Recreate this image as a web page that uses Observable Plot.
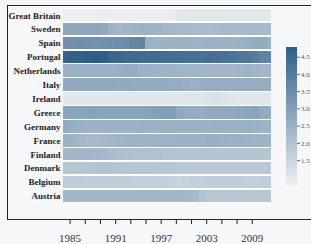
<!DOCTYPE html>
<html><head><meta charset="utf-8">
<script src="https://cdn.jsdelivr.net/npm/d3@7"></script>
<script src="https://cdn.jsdelivr.net/npm/@observablehq/plot@0.6"></script>
<style>
html,body{margin:0;padding:0;background:#f6f7f9;}
#wrap{position:relative;width:311px;height:244px;overflow:hidden;background:#f6f7f9;}
#box{position:absolute;left:6.5px;top:4.5px;width:340px;height:213.5px;border-top:1.3px solid #222;border-left:1.3px solid #222;border-bottom:1.3px solid #222;}
#wrap svg{position:absolute;left:0;top:0;}
</style></head><body><div id="wrap"><div id="box"></div></div>
<script>
const countries = ["Great Britain","Sweden","Spain","Portugal","Netherlands","Italy","Ireland","Greece","Germany","France","Finland","Denmark","Belgium","Austria"];
const years = [1984,1985,1986,1987,1988,1989,1990,1991,1992,1993,1994,1995,1996,1997,1998,1999,2000,2001,2002,2003,2004,2005,2006,2007,2008,2009,2010,2011];
const tickYears = [1985,1987,1989,1991,1993,1995,1997,1999,2001,2003,2005,2007,2009];
const labelYears = [1985,1991,1997,2003,2009];
const colorbarTicks = [1.5,2.0,2.5,3.0,3.5,4.0,4.5];

const greatBritain = [0.80,0.80,0.79,0.80,0.80,0.81,0.80,0.80,0.79,0.80,0.80,0.81,0.80,0.80,0.82,0.98,1.00,1.00,1.01,1.00,1.00,1.01,1.00,1.00,1.01,1.00,1.00,1.01];
const sweden = [2.80,2.80,2.78,2.80,2.78,2.72,2.45,2.35,2.40,2.42,2.45,2.42,2.40,2.35,2.30,2.28,2.25,2.22,2.20,2.20,2.22,2.25,2.25,2.25,2.25,2.25,2.25,2.25];
const spain = [3.40,3.40,3.42,3.40,3.38,3.40,3.42,3.45,3.50,3.65,3.75,2.50,2.40,2.45,2.45,2.48,2.45,2.45,2.42,2.45,2.45,2.45,2.45,2.50,2.55,2.65,2.65,2.50];
const portugal = [4.65,4.70,4.72,4.75,4.78,4.75,4.55,4.50,4.45,4.45,4.42,4.40,4.40,4.35,4.35,4.32,4.30,4.30,4.28,4.30,4.28,4.25,4.20,4.10,4.05,3.95,3.80,3.70];
const netherlands = [2.50,2.50,2.50,2.48,2.48,2.50,2.50,2.52,2.60,2.62,2.50,2.45,2.42,2.40,2.40,2.38,2.38,2.36,2.35,2.35,2.35,2.35,2.35,2.38,2.40,2.38,2.35,2.35];
const italy = [2.72,2.72,2.70,2.70,2.72,2.70,2.70,2.68,2.68,2.66,2.65,2.65,2.66,2.65,2.62,2.62,2.55,2.52,2.60,2.62,2.62,2.60,2.62,2.62,2.62,2.60,2.60,2.60];
const ireland = [1.00,1.00,1.00,1.00,1.00,1.00,1.00,1.00,1.00,1.00,1.00,1.00,1.00,1.00,1.00,1.00,1.02,1.02,1.05,1.15,1.20,1.10,1.02,1.00,1.00,1.00,1.00,1.00];
const greece = [2.85,2.85,2.85,2.88,2.88,2.86,2.85,2.85,2.85,2.85,2.86,2.90,2.98,3.00,3.00,2.75,2.60,2.60,2.62,2.70,2.72,2.72,2.72,2.75,2.80,2.85,2.65,2.60];
const germany = [2.65,2.55,2.48,2.45,2.45,2.45,2.45,2.45,2.45,2.45,2.48,2.45,2.45,2.45,2.45,2.45,2.45,2.45,2.45,2.45,2.48,2.48,2.48,2.48,2.48,2.45,2.42,2.40];
const france = [2.45,2.40,2.30,2.25,2.25,2.28,2.35,2.38,2.40,2.40,2.40,2.40,2.40,2.42,2.42,2.45,2.45,2.45,2.50,2.55,2.52,2.48,2.45,2.45,2.42,2.40,2.40,2.40];
const finland = [2.35,2.35,2.35,2.35,2.32,2.30,2.20,2.10,2.08,2.05,2.05,2.08,2.05,2.00,1.98,1.95,1.95,1.95,1.95,1.95,1.95,1.95,1.95,1.95,1.95,1.95,1.95,1.95];
const denmark = [1.95,1.95,1.95,1.95,1.98,2.02,2.00,1.95,1.92,1.90,1.90,1.90,1.88,1.88,1.88,1.86,1.85,1.85,1.85,1.85,1.85,1.85,1.85,1.85,1.85,1.85,1.85,1.85];
const belgium = [1.72,1.72,1.72,1.70,1.70,1.70,1.70,1.70,1.70,1.68,1.68,1.68,1.68,1.65,1.62,1.55,1.60,1.65,1.68,1.70,1.70,1.70,1.70,1.70,1.68,1.68,1.70,1.70];
const austria = [2.35,2.35,2.35,2.35,2.36,2.35,2.35,2.35,2.36,2.35,2.35,2.35,2.35,2.34,2.35,2.35,2.33,2.25,2.00,1.92,1.90,1.90,1.90,1.90,1.90,1.92,1.90,1.90];

const series = [greatBritain,sweden,spain,portugal,netherlands,italy,ireland,greece,germany,france,finland,denmark,belgium,austria];
const cells = countries.flatMap((c,i)=>years.map((y,j)=>({country:c, year:y, value:series[i][j]})));

const xDomain = [1984.13, 2011.54];
const colorDomain = [0.75, 4.78];
const color = {type:"linear", domain:colorDomain, range:["#eef0f2","#2e5e88"]};
const common = {width:311, height:244, marginLeft:63, marginRight:40,
  style:{background:"transparent", fontFamily:"Liberation Serif", overflow:"visible"}};

const heat = Plot.plot({
  ...common,
  marginTop:7.5, marginBottom:40.5,
  x:{domain:xDomain, axis:null},
  y:{domain:countries, padding:0.1, round:false, axis:null},
  color,
  marks:[
    Plot.barX(countries,{x1:xDomain[0], x2:xDomain[1], y:d=>d, fill:"white", insetTop:-1, insetBottom:-1}),
    Plot.barX(cells,{x1:"year", x2:d=>d.year+1, y:"country", fill:"value", clip:true, shapeRendering:"crispEdges"}),
    Plot.axisY({tickSize:0, tickPadding:3, fontWeight:"bold", fontSize:9, fill:"#222", label:null})
  ]
});

const axis = Plot.plot({
  ...common,
  marginTop:7.5, marginBottom:25,
  x:{domain:xDomain},
  marks:[
    Plot.axisX({ticks:tickYears, tickFormat:d=>labelYears.includes(d)?String(d):"", tickSize:5, tickPadding:10, fontSize:11, fill:"#333", stroke:"#222", label:null})
  ]
});

const stops = d3.range(colorDomain[0], colorDomain[1], 0.02);
const bar = Plot.plot({
  width:311, height:244,
  marginLeft:286, marginRight:14, marginTop:47, marginBottom:58,
  style:{background:"transparent", fontFamily:"Liberation Serif", overflow:"visible"},
  y:{domain:colorDomain},
  color,
  marks:[
    Plot.rect(stops,{y1:d=>d, y2:d=>Math.min(d+0.02, colorDomain[1]), fill:d=>d, shapeRendering:"crispEdges"}),
    Plot.axisY({anchor:"right", ticks:colorbarTicks, tickFormat:".1f", tickSize:3, tickPadding:1.5, fontSize:7, fill:"#555", stroke:"#666", dx:-1, label:null})
  ]
});

document.getElementById("wrap").append(heat, axis, bar);
</script></body></html>
